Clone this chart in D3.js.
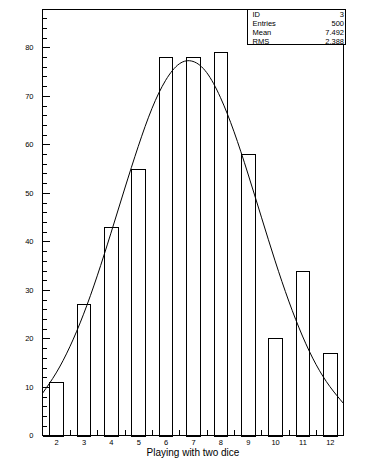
<!DOCTYPE html>
<html>
<head>
<meta charset="utf-8">
<script src="https://cdn.jsdelivr.net/npm/d3@7"></script>
<style>
  body { margin: 0; background: #fff; }
  svg { display: block; font-family: "Liberation Sans", Arial, sans-serif; }
</style>
</head>
<body>
<svg width="387" height="465"></svg>
<script>
// dice histogram + gaussian fit
const binCenters = [2, 3, 4, 5, 6, 7, 8, 9, 10, 11, 12]
const counts = [11, 27, 43, 55, 78, 78, 79, 58, 20, 34, 17]

const fitX = [1.5, 2, 2.5, 3, 3.5, 4, 4.5, 5, 5.5, 6, 6.5, 7, 7.5, 8, 8.5, 9, 9.5, 10, 10.5, 11, 11.5, 12, 12.5]
const fitY = [8.7, 12.9, 18.3, 25.0, 32.9, 41.7, 50.8, 59.6, 67.4, 73.2, 76.6, 77.1, 74.8, 69.7, 62.6, 54.1, 45.0, 36.0, 27.7, 20.5, 14.6, 10.1, 6.6]

const yMajor = [0, 10, 20, 30, 40, 50, 60, 70, 80]
const yMinor = d3.range(0, 87, 2)
const xMinor = [2.5, 3.5, 4.5, 5.5, 6.5, 7.5, 8.5, 9.5, 10.5, 11.5]

const statLabels = ["ID", "Entries", "Mean", "RMS"]
const statValues = ["3", "500", "7.492", "2.388"]
const xTitle = "Playing with two dice"

const frameL = 42.5, frameR = 343.5, frameT = 9.5, frameB = 435.5

const svg = d3.select('svg')

const x = d3.scaleLinear().domain([1.5, 12.5]).range([frameL, frameR])
const y = d3.scaleLinear().domain([0, 87.8]).range([frameB, frameT])

// bars: half a bin wide, centred on the bin
svg.append('g')
    .selectAll('rect')
    .data(binCenters)
    .enter()
    .append('rect')
    .attr('x', (d) => Math.round(x(d - 0.25)) + 0.5)
    .attr('y', (d, i) => Math.round(y(counts[i])) + 0.5)
    .attr('width', (d) => Math.round(x(d + 0.25)) - Math.round(x(d - 0.25)))
    .attr('height', (d, i) => Math.round(frameB) - Math.round(y(counts[i])))
    .attr('fill', 'none')
    .attr('stroke', '#000')
    .attr('stroke-width', 1)
    .attr('shape-rendering', 'crispEdges')

// fit curve
svg.append('clipPath').attr('id', 'frameClip')
    .append('rect')
    .attr('x', frameL).attr('y', frameT)
    .attr('width', frameR - frameL).attr('height', frameB - frameT)

const line = d3.line()
    .x((d, i) => x(fitX[i]))
    .y((d) => y(d))
    .curve(d3.curveNatural)

svg.append('path')
    .datum(fitY)
    .attr('d', line)
    .attr('clip-path', 'url(#frameClip)')
    .attr('fill', 'none')
    .attr('stroke', '#000')
    .attr('stroke-width', 1)

// y axis, ticks inside the frame
svg.append('g')
    .attr('transform', `translate(${frameL},0)`)
    .call(d3.axisLeft(y).tickValues(yMajor).tickSize(-7).tickPadding(9).tickFormat(d3.format('d')))
svg.append('g')
    .attr('transform', `translate(${frameL},0)`)
    .call(d3.axisLeft(y).tickValues(yMinor).tickSize(-4).tickFormat(''))

// x axis: labels at integers, short ticks at bin edges
svg.append('g')
    .attr('transform', `translate(0,${frameB})`)
    .call(d3.axisBottom(x).tickValues(binCenters).tickSize(0).tickPadding(4).tickFormat(d3.format('d')))
svg.append('g')
    .attr('transform', `translate(0,${frameB})`)
    .call(d3.axisBottom(x).tickValues(xMinor).tickSize(-6).tickFormat(''))

svg.selectAll('.domain').remove()
svg.selectAll('.tick line')
    .attr('stroke', '#000')
    .attr('shape-rendering', 'crispEdges')
svg.selectAll('.tick text')
    .attr('fill', '#000')
    .attr('font-family', '"Liberation Sans", Arial, sans-serif')
    .attr('font-size', '7.5px')

// frame
svg.append('rect')
    .attr('x', frameL).attr('y', frameT)
    .attr('width', frameR - frameL).attr('height', frameB - frameT)
    .attr('fill', 'none')
    .attr('stroke', '#000')
    .attr('shape-rendering', 'crispEdges')

// axis title
svg.append('text')
    .attr('x', 193)
    .attr('y', 456)
    .attr('text-anchor', 'middle')
    .attr('font-size', '10px')
    .text(xTitle)

// stats box
const box = svg.append('g')
box.append('rect')
    .attr('x', 247.5).attr('y', 9.5)
    .attr('width', 98).attr('height', 35)
    .attr('fill', '#fff')
    .attr('stroke', '#000')
    .attr('shape-rendering', 'crispEdges')

statLabels.forEach((label, i) => {
    const by = 16.5 + i * 9.2
    box.append('text')
        .attr('x', 252.5).attr('y', by)
        .attr('font-size', '7.5px')
        .text(label)
    box.append('text')
        .attr('x', 344).attr('y', by)
        .attr('text-anchor', 'end')
        .attr('font-size', '7.5px')
        .text(statValues[i])
})
</script>
</body>
</html>
